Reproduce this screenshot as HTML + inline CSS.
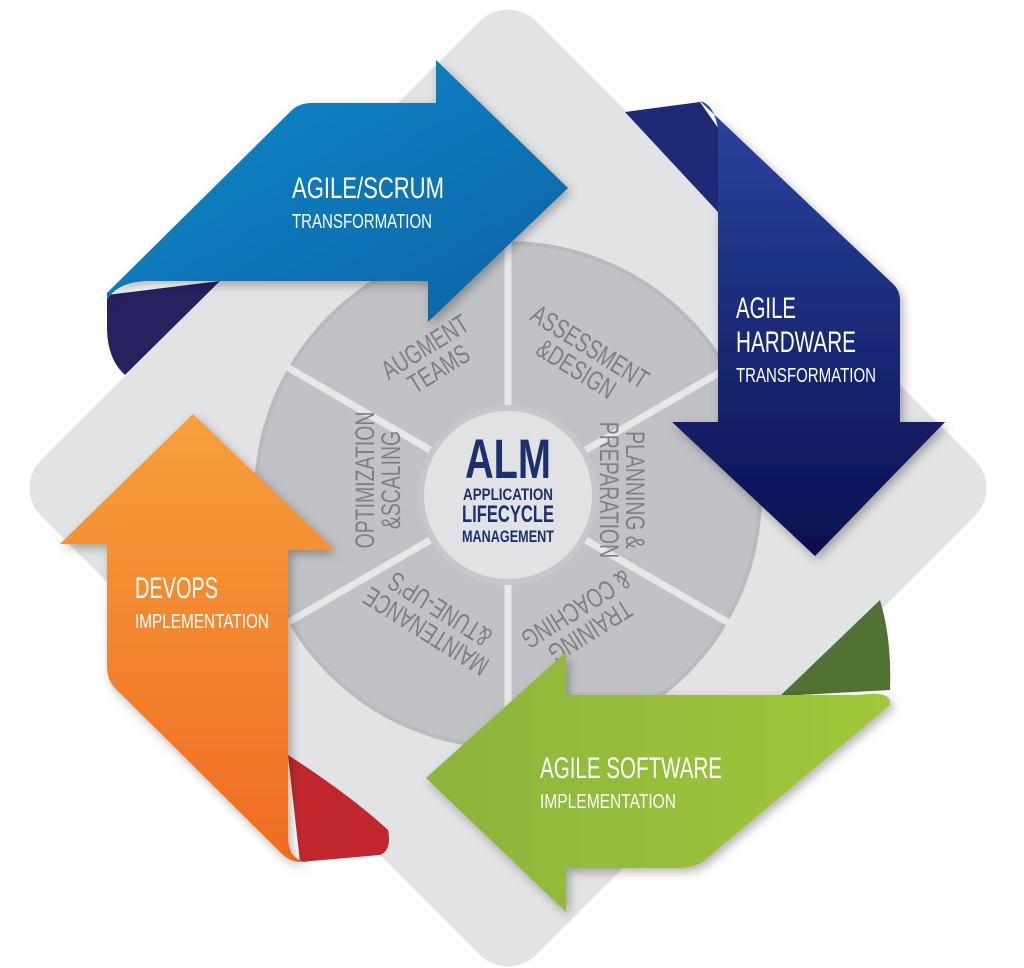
<!DOCTYPE html>
<html><head><meta charset="utf-8"><style>
html,body{margin:0;padding:0;background:#fff;}
svg{display:block;}
text{font-family:"Liberation Sans Narrow","Liberation Sans",sans-serif;}
</style></head><body>
<svg width="1024" height="968" viewBox="0 0 1024 968" xmlns="http://www.w3.org/2000/svg">
<defs>
<linearGradient id="gb" x1="0" y1="0" x2="1" y2="1"><stop offset="0" stop-color="#0a8ccc"/><stop offset="1" stop-color="#0a62a5"/></linearGradient>
<linearGradient id="gn" x1="0" y1="0" x2="0" y2="1"><stop offset="0" stop-color="#2a45a0"/><stop offset="1" stop-color="#0b0f4f"/></linearGradient>
<linearGradient id="go" x1="0" y1="0" x2="0" y2="1"><stop offset="0" stop-color="#f6a03c"/><stop offset="1" stop-color="#f06b22"/></linearGradient>
<linearGradient id="gg" x1="0" y1="0" x2="1" y2="0"><stop offset="0" stop-color="#8cb43c"/><stop offset="1" stop-color="#a0c83a"/></linearGradient>
<filter id="sh" x="-10%" y="-10%" width="130%" height="130%"><feDropShadow dx="3" dy="4" stdDeviation="5" flood-opacity="0.3"/></filter>
</defs>
<!-- gray diamond -->
<rect x="158" y="138" width="700" height="700" rx="40" fill="#e2e3e5" transform="rotate(45 508 488)"/>
<!-- wheel -->
<circle cx="508" cy="495" r="254" fill="#b9babd"/>
<circle cx="508" cy="495" r="250" fill="#c1c2c5"/>
<g stroke="#e6e7e9" stroke-width="7">
<line x1="508" y1="495" x2="508" y2="240"/>
<line x1="508" y1="495" x2="508" y2="750"/>
<line x1="508" y1="495" x2="729" y2="367"/>
<line x1="508" y1="495" x2="287" y2="367"/>
<line x1="508" y1="495" x2="729" y2="623"/>
<line x1="508" y1="495" x2="287" y2="623"/>
</g>
<circle cx="508" cy="495" r="90" fill="#c6c7ca"/>
<circle cx="508" cy="495" r="84" fill="#e1e2e4"/>
<text x="508" y="478" text-anchor="middle" font-size="56" font-weight="bold" fill="#1c2f6e" textLength="86" lengthAdjust="spacingAndGlyphs">ALM</text>
<text x="508" y="500" text-anchor="middle" font-size="17" font-weight="bold" fill="#1c2f6e" textLength="90" lengthAdjust="spacingAndGlyphs">APPLICATION</text>
<text x="508" y="522" text-anchor="middle" font-size="24" font-weight="bold" fill="#1c2f6e" textLength="92" lengthAdjust="spacingAndGlyphs">LIFECYCLE</text>
<text x="508" y="542" text-anchor="middle" font-size="17" font-weight="bold" fill="#1c2f6e" textLength="92" lengthAdjust="spacingAndGlyphs">MANAGEMENT</text>
<g fill="#7e7f82" font-size="27" text-anchor="middle">
<g transform="translate(432,358) rotate(-32) scale(0.72,1)"><text y="-4">AUGMENT</text><text y="22">TEAMS</text></g>
<g transform="translate(583,358) rotate(32) scale(0.72,1)"><text y="-4">ASSESSMENT</text><text y="22">&amp;DESIGN</text></g>
<g transform="translate(622,490) rotate(90) scale(0.72,1)"><text y="-4">PLANNING &amp;</text><text y="22">PREPARATION</text></g>
<g transform="translate(583,620) rotate(148) scale(0.72,1)"><text y="-4">TRAINING</text><text y="22">&amp; COACHING</text></g>
<g transform="translate(433,620) rotate(-148) scale(0.72,1)"><text y="-4">MAINTENANCE</text><text y="22">&amp;TUNE-UP'S</text></g>
<g transform="translate(378,480) rotate(-90) scale(0.72,1)"><text y="-4">OPTIMIZATION</text><text y="22">&amp;SCALING</text></g>
</g>
<!-- blue arrow -->
<path d="M107,295 L220,281 L125,375 Q108,360 107,330 Z" fill="#272160"/>
<path d="M107,293 L290,112 Q298,103 312,103 L436,103 L436,60 L568,188 L428,322 L428,281 L150,281 Q118,281 107,300 Z" fill="url(#gb)" filter="url(#sh)"/>
<text x="292" y="198" font-size="30" fill="#fff" textLength="152" lengthAdjust="spacingAndGlyphs">AGILE/SCRUM</text>
<text x="292" y="228" font-size="20" fill="#fff" textLength="140" lengthAdjust="spacingAndGlyphs">TRANSFORMATION</text>
<!-- navy arrow -->
<path d="M625,112 L700,102 L718,128 L718,212 Z" fill="#1e2a78"/>
<path d="M700,101 Q715,105 718,130 L718,422 L672,422 L815,556 L945,422 L900,422 L900,300 Q900,290 892,283 Z" fill="url(#gn)" filter="url(#sh)"/>
<text x="736" y="318" font-size="30" fill="#fff" textLength="60" lengthAdjust="spacingAndGlyphs">AGILE</text>
<text x="736" y="352" font-size="30" fill="#fff" textLength="120" lengthAdjust="spacingAndGlyphs">HARDWARE</text>
<text x="736" y="382" font-size="20" fill="#fff" textLength="140" lengthAdjust="spacingAndGlyphs">TRANSFORMATION</text>
<!-- green arrow -->
<path d="M780,696 L880,600 Q892,640 890,690 Z" fill="#517232"/>
<path d="M566,652 L566,695 L860,695 Q892,690 890,705 L705,860 Q695,868 680,868 L566,868 L566,912 L426,778 Z" fill="url(#gg)" filter="url(#sh)"/>
<text x="540" y="778" font-size="30" fill="#fff" textLength="182" lengthAdjust="spacingAndGlyphs">AGILE SOFTWARE</text>
<text x="540" y="808" font-size="20" fill="#fff" textLength="136" lengthAdjust="spacingAndGlyphs">IMPLEMENTATION</text>
<!-- orange arrow -->
<path d="M288,755 Q350,795 388,830 Q392,850 380,855 L300,862 Z" fill="#c1272d"/>
<path d="M193,414 L335,550 L288,550 L288,840 Q290,862 310,862 L300,862 Q290,862 280,852 L115,688 Q107,680 107,665 L107,544 L60,544 Z" fill="url(#go)" filter="url(#sh)"/>
<text x="135" y="598" font-size="30" fill="#fff" textLength="83" lengthAdjust="spacingAndGlyphs">DEVOPS</text>
<text x="135" y="628" font-size="20" fill="#fff" textLength="134" lengthAdjust="spacingAndGlyphs">IMPLEMENTATION</text>
</svg>
</body></html>
